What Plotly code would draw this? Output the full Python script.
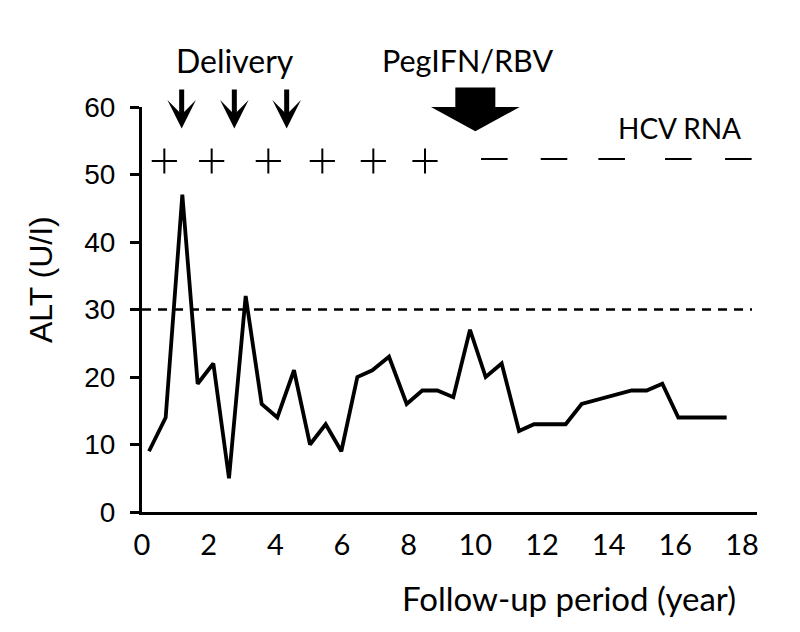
import plotly.graph_objects as go

# ALT follow-up series (years, U/l)
years = [0.21, 0.71, 1.21, 1.67, 2.14, 2.61, 3.11, 3.59, 4.06, 4.56, 5.04, 5.51,
         5.98, 6.46, 6.91, 7.41, 7.94, 8.41, 8.86, 9.34, 9.84, 10.31, 10.79, 11.31,
         11.76, 12.24, 12.71, 13.19, 13.94, 14.69, 15.14, 15.61, 16.09, 16.57, 17.05, 17.54]
alt = [9, 14, 47, 19, 22, 5, 32, 16, 14, 21, 10, 13,
       9, 20, 21, 23, 16, 18, 18, 17, 27, 20, 22, 12,
       13, 13, 13, 16, 17, 18, 18, 19, 14, 14, 14, 14]

# HCV RNA results
rna_pos_years = [0.67, 2.09, 3.79, 5.41, 6.94, 8.49]
rna_neg_years = [10.57, 12.36, 14.09, 16.09, 17.89]
rna_level = 52

# events
delivery_years = [1.19, 2.77, 4.34]
peg_year = 10.0
uln = 30

x_ticks = list(range(0, 19, 2))
y_ticks = list(range(0, 61, 10))
Y_MAX = 60

fig = go.Figure()

fig.add_trace(go.Scatter(
    x=years, y=alt, mode='lines',
    line=dict(color='black', width=3.8),
    showlegend=False
))

fig.add_trace(go.Scatter(
    x=rna_pos_years, y=[rna_level] * len(rna_pos_years), mode='markers',
    marker=dict(symbol='cross-thin', size=18, line=dict(color='black', width=2)),
    showlegend=False, cliponaxis=False
))
fig.add_trace(go.Scatter(
    x=rna_neg_years, y=[rna_level + 0.3] * len(rna_neg_years), mode='markers',
    marker=dict(symbol='line-ew', size=19, line=dict(color='black', width=2)),
    showlegend=False, cliponaxis=False
))

# upper limit of normal
fig.add_shape(type='line', xref='x', yref='y', x0=0, x1=18.3, y0=uln, y1=uln,
              line=dict(color='black', width=2.5, dash='9px,7px'))

# delivery arrows
for d in delivery_years:
    fig.add_annotation(x=d, y=56.8, ax=d, ay=62.8, axref='x', ayref='y',
                       xref='x', yref='y', text='', showarrow=True,
                       arrowhead=3, arrowwidth=5, arrowsize=0.95, arrowcolor='black')

# PegIFN/RBV block arrow (y in paper units so it isn't clipped)
def py(v):
    return v / Y_MAX

hw, hh = 0.6, 1.33
path = (f"M {peg_year - hw},{py(62.9)} L {peg_year + hw},{py(62.9)} "
        f"L {peg_year + hw},{py(60.0)} L {peg_year + hh},{py(60.0)} "
        f"L {peg_year},{py(56.4)} L {peg_year - hh},{py(60.0)} "
        f"L {peg_year - hw},{py(60.0)} Z")
fig.add_shape(type='path', path=path, xref='x', yref='paper',
              fillcolor='black', line=dict(color='black', width=0))

lato = 'Lato, sans-serif'
arial = 'Liberation Sans, Arial, sans-serif'

fig.add_annotation(x=2.79, y=1.116, xref='x', yref='paper', text='Delivery',
                   showarrow=False, yanchor='middle', font=dict(family=lato, size=32, color='black'))
fig.add_annotation(x=9.75, y=1.116, xref='x', yref='paper', text='PegIFN/RBV',
                   showarrow=False, yanchor='middle', font=dict(family=lato, size=30.5, color='black'))
fig.add_annotation(x=18.03, y=56.9, xref='x', yref='y', text='HCV RNA',
                   showarrow=False, xanchor='right', yanchor='middle',
                   font=dict(family=lato, size=28, color='black'))

# axis titles placed as annotations (not centred in the reference)
fig.add_annotation(x=17.88, y=-0.212, xref='x', yref='paper', text='Follow-up period (year)',
                   showarrow=False, xanchor='right', yanchor='middle',
                   font=dict(family=lato, size=33, color='black'))
fig.add_annotation(x=-0.164, y=0.573, xref='paper', yref='paper', text='ALT (U/I)',
                   showarrow=False, textangle=-90, xanchor='center', yanchor='middle',
                   font=dict(family=arial, size=32, color='black'))

fig.update_xaxes(
    range=[0, 18.45], tickvals=x_ticks, ticktext=[str(t) for t in x_ticks],
    showline=True, linecolor='black', linewidth=3, ticks='',
    showgrid=False, zeroline=False, ticklabelstandoff=5,
    tickfont=dict(family=lato, size=29, color='black')
)
fig.update_yaxes(
    range=[0, Y_MAX], tickvals=y_ticks,
    showline=True, linecolor='black', linewidth=3, ticks='outside', ticklen=9, tickwidth=3,
    tickcolor='black', showgrid=False, zeroline=False, ticklabelstandoff=9,
    tickfont=dict(family=arial, size=28, color='black')
)

# page adds an 8px body margin, so the figure is 8px smaller each way
fig.update_layout(
    width=792, height=624,
    margin=dict(l=134, r=43, t=99, b=120),
    plot_bgcolor='white', paper_bgcolor='white',
    showlegend=False
)

fig.write_html("out.html")
